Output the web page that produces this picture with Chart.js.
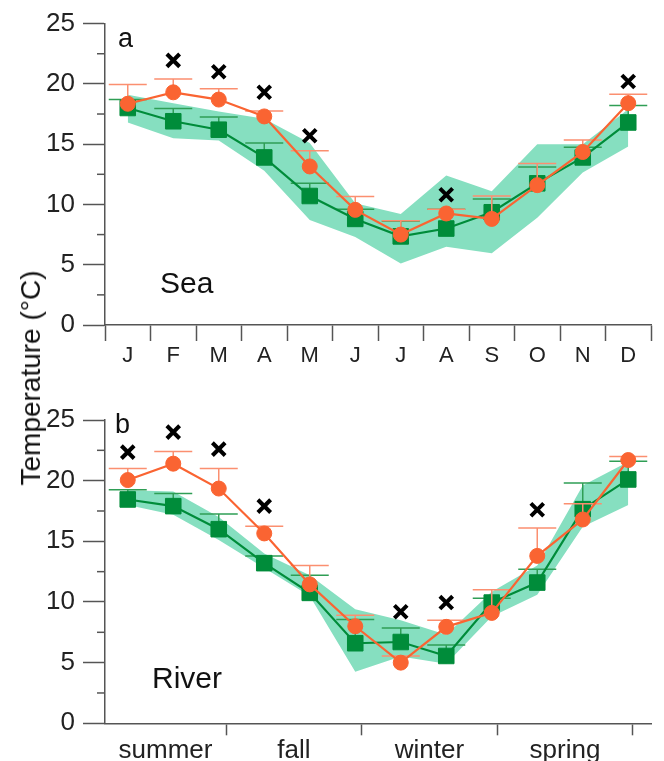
<!DOCTYPE html>
<html>
<head>
<meta charset="utf-8">
<script src="https://cdn.jsdelivr.net/npm/chart.js@4.4.0/dist/chart.umd.min.js"></script>
<style>
  body { margin: 0; background: #fff; }
  #wrap { position: relative; width: 664px; height: 761px; }
  #seaChart { position: absolute; left: 0; top: 0; }
  #riverChart { position: absolute; left: 0; top: 380px; }
  #ytitle {
    position: absolute; left: 31px; top: 378px;
    transform: translate(-50%, -50%) rotate(-90deg);
    font: 28px "Liberation Sans", Arial, sans-serif; color: #111; white-space: nowrap;
  }
</style>
</head>
<body>
<div id="wrap">
  <canvas id="seaChart" width="664" height="380" style="width:664px;height:380px"></canvas>
  <canvas id="riverChart" width="664" height="381" style="width:664px;height:381px"></canvas>
  <div id="ytitle">Temperature (°C)</div>
</div>
<script>
const months = ['J', 'F', 'M', 'A', 'M', 'J', 'J', 'A', 'S', 'O', 'N', 'D'];
const seasons = ['summer', 'fall', 'winter', 'spring'];
const seasonEdges = [2.16, 5.14, 8.12, 11.1];

// panel a: Sea
const seaGreen = [18.0, 16.9, 16.2, 13.9, 10.7, 8.8, 7.35, 8.0, 9.35, 11.75, 13.9, 16.8];
const seaGreenErr = [0.7, 1.05, 1.05, 1.2, 1.05, 0.8, 1.25, 1.6, 1.1, 1.35, 0.85, 1.4];
const seaOrange = [18.35, 19.3, 18.7, 17.3, 13.15, 9.55, 7.5, 9.25, 8.8, 11.6, 14.35, 18.4];
const seaOrangeErr = [1.6, 1.1, 0.9, 0.45, 1.3, 1.1, 1.15, 0.35, 1.9, 1.8, 1.0, 0.75];
const seaCross = [null, 21.95, 21.0, 19.3, 15.7, null, null, 10.8, null, null, null, 20.2];
const seaBandTop = [19.1, 18.4, 17.7, 17.1, 15.1, 10.1, 9.2, 12.4, 11.1, 15.0, 15.0, 17.9];
const seaBandBot = [16.8, 15.5, 15.3, 12.8, 8.7, 7.3, 5.1, 6.5, 5.95, 8.9, 12.65, 14.8];

// panel b: River
const riverGreen = [18.45, 17.9, 16.0, 13.2, 10.75, 6.6, 6.7, 5.55, 9.95, 11.6, 17.65, 20.1];
const riverGreenErr = [0.8, 1.05, 1.25, 0.6, 1.45, 1.95, 1.15, 0.9, 0.35, 1.1, 2.15, 1.5];
const riverOrange = [20.05, 21.4, 19.35, 15.65, 11.45, 8.0, 5.0, 7.95, 9.1, 13.8, 16.8, 21.7];
const riverOrangeErr = [0.95, 1.0, 1.65, 0.6, 1.55, 0.9, 0.55, 0.55, 1.9, 2.3, 1.3, 0.3];
const riverCross = [22.35, 24.0, 22.6, 17.9, null, null, 9.2, 9.95, null, 17.6, null, null];
const riverBandTop = [19.2, 19.1, 17.0, 14.0, 12.2, 9.4, 8.5, 7.3, 10.85, 13.0, 19.6, 21.55];
const riverBandBot = [18.0, 17.2, 15.1, 12.8, 10.5, 4.25, 5.5, 4.9, 8.8, 10.6, 16.2, 18.0];

const GREEN = '#008c3a';
const ORANGE = '#fa6432';
const BAND = '#86dfc0';
const AXIS = '#555';
const FONT = '"Liberation Sans", Arial, sans-serif';

const errorBars = {
  id: 'errorBars',
  beforeDatasetDraw(chart, args) {
    const ds = chart.data.datasets[args.index];
    if (!ds.errors) return;
    const xs = chart.scales.x, ys = chart.scales.y, ctx = chart.ctx;
    ctx.save();
    ctx.strokeStyle = ds.errorColor;
    ctx.lineWidth = 1.5;
    ds.data.forEach((v, i) => {
      const px = xs.getPixelForValue(i);
      const py = ys.getPixelForValue(v);
      const pt = ys.getPixelForValue(v + ds.errors[i]);
      ctx.beginPath();
      ctx.moveTo(px, py); ctx.lineTo(px, pt);
      ctx.moveTo(px - 19, pt); ctx.lineTo(px + 19, pt);
      ctx.stroke();
    });
    ctx.restore();
  }
};

// short minor ticks on y axis + panel texts
const extras = {
  id: 'extras',
  afterDraw(chart, args, opts) {
    const ctx = chart.ctx, ys = chart.scales.y;
    ctx.save();
    ctx.strokeStyle = AXIS;
    ctx.lineWidth = 1.5;
    for (let v = 2.5; v < 25; v += 5) {
      const py = ys.getPixelForValue(v);
      ctx.beginPath(); ctx.moveTo(ys.right - 8, py); ctx.lineTo(ys.right, py); ctx.stroke();
    }
    ctx.fillStyle = '#111';
    ctx.textBaseline = 'alphabetic';
    ctx.font = '27px ' + FONT;
    ctx.fillText(opts.letter, opts.letterX, opts.letterY);
    ctx.font = '30px ' + FONT;
    ctx.fillText(opts.name, opts.nameX, opts.nameY);
    ctx.restore();
  }
};

function makeDatasets(green, greenErr, orange, orangeErr, cross, bandTop, bandBot) {
  return [
    { data: cross, showLine: false, pointStyle: 'crossRot', pointRadius: 9,
      pointBorderWidth: 4, pointBorderColor: '#000', pointBackgroundColor: '#000' },
    { data: orange, borderColor: ORANGE, borderWidth: 2.2, pointStyle: 'circle', pointRadius: 7.5,
      pointBackgroundColor: ORANGE, pointBorderColor: ORANGE, pointBorderWidth: 1,
      errors: orangeErr, errorColor: '#fb8f70' },
    { data: green, borderColor: GREEN, borderWidth: 2.2, pointStyle: 'rect', pointRadius: 11,
      pointBackgroundColor: GREEN, pointBorderColor: GREEN, pointBorderWidth: 1,
      errors: greenErr, errorColor: '#2f9e55' },
    { data: bandTop, borderWidth: 0, pointRadius: 0, fill: false },
    { data: bandBot, borderWidth: 0, pointRadius: 0, fill: '-1', backgroundColor: BAND }
  ];
}

const yAxis = {
  min: 0, max: 25,
  afterFit: s => { s.width = 105; },
  border: { color: AXIS, width: 1.5 },
  grid: { drawOnChartArea: false, tickLength: 22, tickWidth: 1.5,
    tickColor: c => (c.tick && c.tick.value % 5 === 0) ? AXIS : 'rgba(0,0,0,0)' },
  ticks: { stepSize: 2.5, padding: 8, color: '#222', font: { family: FONT, size: 26 },
    callback: v => (v % 5 === 0 ? v : '') }
};

new Chart(document.getElementById('seaChart'), {
  type: 'line',
  data: { labels: months, datasets: makeDatasets(seaGreen, seaGreenErr, seaOrange, seaOrangeErr, seaCross, seaBandTop, seaBandBot) },
  plugins: [errorBars, extras],
  options: {
    responsive: false, animation: false,
    elements: { line: { tension: 0 } },
    layout: { padding: { top: 21, right: 9, left: 0, bottom: 0 } },
    plugins: { legend: { display: false }, tooltip: { enabled: false },
      extras: { letter: 'a', letterX: 118, letterY: 47, name: 'Sea', nameX: 160, nameY: 293 } },
    scales: {
      x: {
        type: 'category', offset: true,
        afterFit: s => { s.height = 55; },
        border: { color: AXIS, width: 1.5 },
        grid: { offset: true, drawOnChartArea: false, tickLength: 16, tickWidth: 1.5, tickColor: AXIS },
        ticks: { padding: 2, color: '#222', font: { family: FONT, size: 22 }, maxRotation: 0 }
      },
      y: yAxis
    }
  }
});

new Chart(document.getElementById('riverChart'), {
  type: 'line',
  data: { labels: months, datasets: makeDatasets(riverGreen, riverGreenErr, riverOrange, riverOrangeErr, riverCross, riverBandTop, riverBandBot) },
  plugins: [errorBars, extras],
  options: {
    responsive: false, animation: false,
    elements: { line: { tension: 0 } },
    layout: { padding: { top: 40, right: 9, left: 0, bottom: 0 } },
    plugins: { legend: { display: false }, tooltip: { enabled: false },
      extras: { letter: 'b', letterX: 115, letterY: 53, name: 'River', nameX: 152, nameY: 308 } },
    scales: {
      x: { type: 'category', offset: true, display: false },
      season: {
        type: 'linear', position: 'bottom', min: -0.5, max: 11.5,
        afterFit: s => { s.height = 37.7; },
        afterBuildTicks: s => {
          const t = [];
          seasons.forEach((name, i) => {
            const lo = i === 0 ? -0.5 : seasonEdges[i - 1];
            t.push({ value: (lo + seasonEdges[i]) / 2, label: name });
            t.push({ value: seasonEdges[i], label: '' });
          });
          s.ticks = t;
        },
        border: { color: AXIS, width: 1.5 },
        grid: { drawOnChartArea: false, tickLength: 12, tickWidth: 1.5,
          tickColor: c => (c.tick && c.tick.label === '') ? AXIS : 'rgba(0,0,0,0)' },
        ticks: { padding: 0, color: '#222', font: { family: FONT, size: 26 }, maxRotation: 0,
          autoSkip: false, callback: function (v, i, ticks) { return ticks[i].label; } }
      },
      y: yAxis
    }
  }
});
</script>
</body>
</html>
